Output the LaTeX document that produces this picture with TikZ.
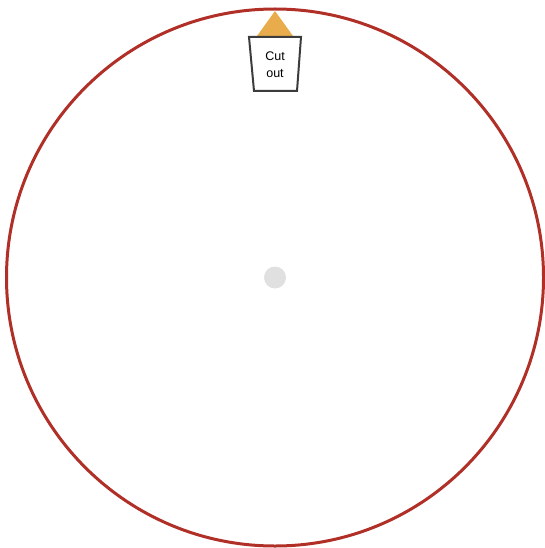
\documentclass[tikz,border=0pt]{standalone}
\usepackage{fontspec}
\setsansfont{Liberation Sans}
\usetikzlibrary{positioning}
\definecolor{dialRim}{HTML}{B03028}
\definecolor{dialMark}{HTML}{E8AC4C}
\definecolor{dialCut}{HTML}{3C3C3C}
\definecolor{dialHub}{HTML}{E0E0E0}
\tikzset{
  dialrim/.style={draw=dialRim,line width=3pt},
  dialmark/.style={fill=dialMark,draw=none},
  dialcut/.style={draw=dialCut,line width=2pt,fill=white,line join=miter},
  dialhub/.style={circle,fill=dialHub,draw=none,minimum size=22pt,inner sep=0pt},
  diallbl/.style={font=\fontsize{12.5pt}{16.5pt}\selectfont\sffamily,align=center,inner sep=0pt,text=black},
}
\begin{document}
\begin{tikzpicture}[x=1pt,y=-1pt]
  \useasboundingbox (0,0) rectangle (545,548);
  \coordinate (C) at (275,277.5);
  \draw[dialrim] (C) circle[radius=268.5];
  \node[dialhub] (hub) at (C) {};
  % pointer and cut-out window
  \fill[dialmark] (275,11) -- (293,36) -- (257,36) -- cycle;
  \draw[dialcut] (249,37) -- (301,37) -- (297,91) -- (254,91) -- cycle;
  \node[diallbl] (cut) at (275,64.5) {Cut\\out};
\end{tikzpicture}
\end{document}
